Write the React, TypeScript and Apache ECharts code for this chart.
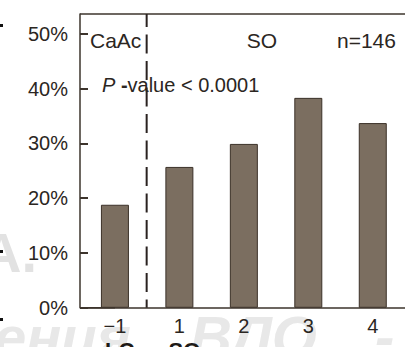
import React, { useEffect, useRef } from "react";
import * as echarts from "echarts";

const categories = ["−1", "1", "2", "3", "4"];
const shareValues = [0.188, 0.257, 0.299, 0.383, 0.337];
const yMin = 0;
const yMax = 0.536;
const yInterval = 0.1;

const FONT = "'Liberation Sans', Arial, sans-serif";
const INK = "#2b2622";
const AXIS = "#3d342c";

export default function App() {
  const ref = useRef<HTMLDivElement>(null);
  useEffect(() => {
    document.body.style.margin = "0";
    const chart = echarts.init(ref.current!, null, { renderer: "svg" });
    const option: any = {
      animation: false,
      grid: { left: 82.7, right: 0, top: 14, bottom: 39.2, containLabel: false },
      xAxis: {
        type: "category",
        data: categories,
        axisLine: { show: true, lineStyle: { color: AXIS, width: 1.5 } },
        axisTick: { show: false },
        axisLabel: { fontSize: 20, color: INK, fontFamily: FONT, margin: 8 },
      },
      yAxis: {
        type: "value",
        min: yMin,
        max: yMax,
        interval: yInterval,
        offset: 2.7,
        axisLine: { show: true, lineStyle: { color: AXIS, width: 1.5 } },
        axisTick: { show: true, inside: true, length: 8, lineStyle: { color: AXIS, width: 2 } },
        splitLine: { show: false },
        axisLabel: {
          fontSize: 20,
          color: INK,
          fontFamily: FONT,
          margin: 12,
          showMaxLabel: false,
          formatter: (v: number) => {
            const r = Math.round(v * 10);
            return Math.abs(v * 10 - r) < 1e-6 ? `${r * 10}%` : "";
          },
        },
      },
      series: [
        {
          type: "bar",
          data: shareValues,
          barWidth: 28,
          itemStyle: { color: "#7b6e60", borderColor: "#3b3128", borderWidth: 1 },
          z: 3,
        },
      ],
    };
    chart.setOption(option);

    const xA = chart.convertToPixel({ xAxisIndex: 0 }, categories[0]) as number;
    const xB = chart.convertToPixel({ xAxisIndex: 0 }, categories[1]) as number;
    const xSep = (xA + xB) / 2 - 0.5;
    const yTop = chart.convertToPixel({ yAxisIndex: 0 }, yMax) as number;
    const yBot = chart.convertToPixel({ yAxisIndex: 0 }, yMin) as number;
    const axisX = 80;

    const wm = "#e8e8e8";
    chart.setOption({
      graphic: [
        { type: "text", z: 0, x: 37, y: 252, style: { text: "А.", fill: "#e2e2e2", font: `bold 56px ${FONT}`, textAlign: "right", textVerticalAlign: "middle" } },
        { type: "text", z: 0, x: -6, y: 336, style: { text: "ения", fill: wm, font: `bold italic 58px ${FONT}`, textAlign: "left", textVerticalAlign: "middle" } },
        { type: "text", z: 0, x: 190, y: 336, style: { text: "ВЛО", fill: wm, font: `bold italic 58px ${FONT}`, textAlign: "left", textVerticalAlign: "middle" } },
        { type: "text", z: 0, x: 375, y: 336, style: { text: "-", fill: wm, font: `bold italic 58px ${FONT}`, textAlign: "left", textVerticalAlign: "middle" } },
        { type: "line", z: 5, shape: { x1: axisX, y1: yTop, x2: 405, y2: yTop }, style: { stroke: AXIS, lineWidth: 1.5 } },
        { type: "line", z: 5, shape: { x1: axisX, y1: yBot, x2: xA, y2: yBot }, style: { stroke: AXIS, lineWidth: 1.5 } },
        { type: "line", z: 5, shape: { x1: xSep, y1: yTop, x2: xSep, y2: yBot }, style: { stroke: "#2a2220", lineWidth: 2, lineDash: [19, 7.5], lineDashOffset: 6.3 } },
        { type: "text", z: 5, x: 90, y: 40, style: { text: "CaAc", fill: INK, font: `21px ${FONT}`, textAlign: "left", textVerticalAlign: "middle" } },
        { type: "text", z: 5, x: 262, y: 40, style: { text: "SO", fill: INK, font: `21px ${FONT}`, textAlign: "center", textVerticalAlign: "middle" } },
        { type: "text", z: 5, x: 337, y: 40, style: { text: "n=146", fill: INK, font: `21px ${FONT}`, textAlign: "left", textVerticalAlign: "middle" } },
        {
          type: "text", z: 5, x: 102, y: 85,
          style: {
            text: "{i|P} {d|-}{n|value < 0.0001}",
            textAlign: "left", textVerticalAlign: "middle",
            rich: {
              i: { fontStyle: "italic", fontSize: 20, fontFamily: FONT, fill: INK, color: INK },
              d: { fontWeight: "bold", fontSize: 20, fontFamily: FONT, fill: INK, color: INK },
              n: { fontSize: 20, fontFamily: FONT, fill: INK, color: INK },
            },
            font: `20px ${FONT}`,
            fill: INK,
          },
        },
        { type: "text", z: 5, x: 105, y: 350, style: { text: "LC → SO", fill: "#1e1a17", font: `bold 22px ${FONT}`, textAlign: "left", textVerticalAlign: "middle" } },
        { type: "rect", z: 5, shape: { x: 0, y: 24, width: 3, height: 3 }, style: { fill: "#111" } },
        { type: "rect", z: 5, shape: { x: 0, y: 250, width: 3, height: 3 }, style: { fill: "#111" } },
        { type: "rect", z: 5, shape: { x: 0, y: 318, width: 3, height: 3 }, style: { fill: "#111" } },
      ],
    });
    return () => chart.dispose();
  }, []);
  return <div ref={ref} style={{ width: 405, height: 347 }} />;
}
